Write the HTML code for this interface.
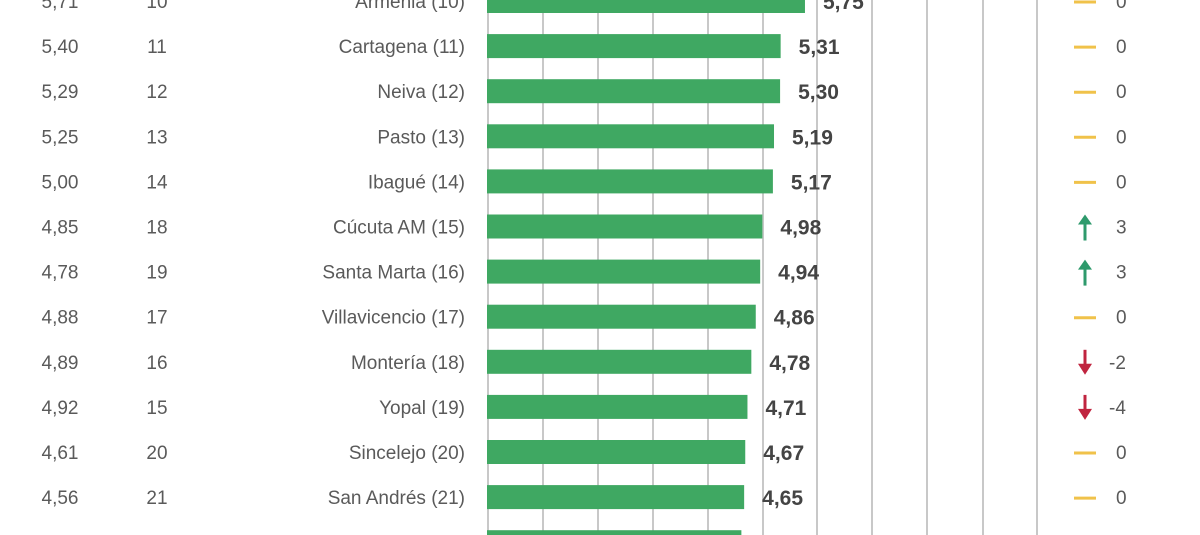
<!DOCTYPE html>
<html><head><meta charset="utf-8"><style>
html,body{margin:0;padding:0;background:#fff;}
svg{display:block;}
text{font-family:"Liberation Sans Narrow","Liberation Sans",sans-serif;font-size:19px;fill:#5a5a5a;}
.v{font-weight:bold;fill:#444;font-size:21px;}
</style></head><body>
<svg width="1200" height="535" viewBox="0 0 1200 535" xmlns="http://www.w3.org/2000/svg">
<g stroke="#c8c8c8" stroke-width="2">
<line x1="488" y1="0" x2="488" y2="535"/><line x1="543" y1="0" x2="543" y2="535"/>
<line x1="598" y1="0" x2="598" y2="535"/><line x1="653" y1="0" x2="653" y2="535"/>
<line x1="708" y1="0" x2="708" y2="535"/><line x1="763" y1="0" x2="763" y2="535"/>
<line x1="817" y1="0" x2="817" y2="535"/><line x1="872" y1="0" x2="872" y2="535"/>
<line x1="927" y1="0" x2="927" y2="535"/><line x1="983" y1="0" x2="983" y2="535"/>
<line x1="1037" y1="0" x2="1037" y2="535"/>
</g>
<g id="rows"></g>
</svg>
<script>
var d=[["5,71","10","Armenia (10)",5.75,0],["5,40","11","Cartagena (11)",5.31,0],["5,29","12","Neiva (12)",5.30,0],["5,25","13","Pasto (13)",5.19,0],["5,00","14","Ibagué (14)",5.17,0],["4,85","18","Cúcuta AM (15)",4.98,3],["4,78","19","Santa Marta (16)",4.94,3],["4,88","17","Villavicencio (17)",4.86,0],["4,89","16","Montería (18)",4.78,-2],["4,92","15","Yopal (19)",4.71,-4],["4,61","20","Sincelejo (20)",4.67,0],["4,56","21","San Andrés (21)",4.65,0],["4,55","22","Valledupar (22)",4.60,0]];
var s="";
d.forEach(function(r,i){
var y=1+45.1*i, w=r[3]*55.3, ty=y+7;
s+='<rect x="487" y="'+(y-12)+'" width="'+w+'" height="24" fill="#3fa862"/>';
s+='<text x="60" y="'+ty+'" text-anchor="middle">'+r[0]+'</text>';
s+='<text x="157" y="'+ty+'" text-anchor="middle">'+r[1]+'</text>';
s+='<text x="465" y="'+ty+'" text-anchor="end">'+r[2]+'</text>';
s+='<text class="v" x="'+(487+w+18)+'" y="'+(ty+1)+'">'+r[3].toFixed(2).replace(".",",")+'</text>';
var c=r[4];
if(c==0){s+='<line x1="1074" y1="'+(y+1)+'" x2="1096" y2="'+(y+1)+'" stroke="#f0c24a" stroke-width="3"/>';}
else if(c>0){s+='<line x1="1085" y1="'+(y+14)+'" x2="1085" y2="'+(y-4)+'" stroke="#2e9a6c" stroke-width="3"/><polygon points="1078,'+(y-2)+' 1085,'+(y-12)+' 1092,'+(y-2)+'" fill="#2e9a6c"/>';}
else{s+='<line x1="1085" y1="'+(y-12)+'" x2="1085" y2="'+(y+4)+'" stroke="#c0243f" stroke-width="3"/><polygon points="1078,'+(y+2)+' 1085,'+(y+13)+' 1092,'+(y+2)+'" fill="#c0243f"/>';}
s+='<text x="'+(c<0?1109:1116)+'" y="'+ty+'">'+c+'</text>';
});
document.getElementById("rows").innerHTML=s;
</script>
</body></html>
